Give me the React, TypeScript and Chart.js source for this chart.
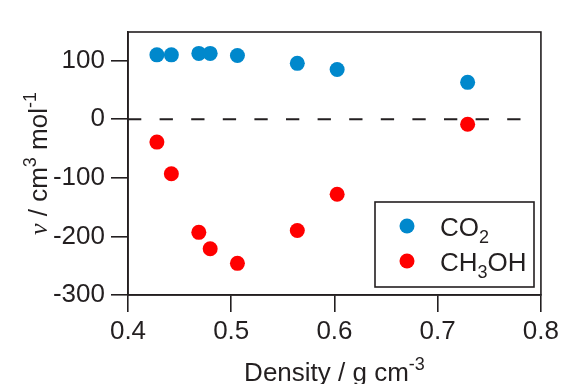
import React, { useEffect, useRef } from "react";
import { Chart, registerables } from "chart.js";

Chart.register(...registerables);

const co2Density = [0.428, 0.442, 0.4686, 0.4796, 0.506, 0.564, 0.6026, 0.729];
const co2Values = [110, 110, 112.5, 112.5, 109, 95.5, 85, 63];
const meohDensity = [0.428, 0.442, 0.4686, 0.4796, 0.506, 0.564, 0.6026, 0.729];
const meohValues = [-39, -93, -193, -221, -246, -190, -128, -8.5];
const xTicks = [0.4, 0.5, 0.6, 0.7, 0.8];
const yTicks = [-300, -200, -100, 0, 100];
const zeroLineX = [0.4, 0.781];

const INK = "#231f20";
const BLUE = "rgb(0,136,204)";
const RED = "rgb(255,0,0)";
const SANS = "'Liberation Sans', Arial, sans-serif";

type Piece = { t: string; size: number; rise: number; font?: string };

function drawPieces(ctx: CanvasRenderingContext2D, pieces: Piece[], x: number, y: number, align: "left" | "center") {
  let total = 0;
  const widths = pieces.map((p) => {
    ctx.font = p.font ?? `${p.size}px ${SANS}`;
    const w = ctx.measureText(p.t).width;
    total += w;
    return w;
  });
  let cx = align === "center" ? x - total / 2 : x;
  ctx.textAlign = "left";
  ctx.textBaseline = "alphabetic";
  pieces.forEach((p, i) => {
    ctx.font = p.font ?? `${p.size}px ${SANS}`;
    ctx.fillText(p.t, cx, y - p.rise);
    cx += widths[i];
  });
}

const decorPlugin = {
  id: "decor",
  afterDraw(chart: any) {
    const ctx: CanvasRenderingContext2D = chart.ctx;
    const a = chart.chartArea;
    ctx.save();
    // frame
    ctx.strokeStyle = INK;
    ctx.lineWidth = 1.6;
    ctx.strokeRect(a.left, a.top, a.right - a.left, a.bottom - a.top);
    ctx.fillStyle = INK;
    // x title
    drawPieces(
      ctx,
      [
        { t: "Density / g cm", size: 26, rise: 0 },
        { t: "-3", size: 18, rise: 11 },
      ],
      (a.left + a.right) / 2,
      381,
      "center"
    );
    // y title
    ctx.save();
    ctx.translate(47, (a.top + a.bottom) / 2);
    ctx.rotate(-Math.PI / 2);
    drawPieces(
      ctx,
      [
        { t: "ν", size: 26, rise: 0, font: `italic 26px 'Liberation Serif', serif` },
        { t: " / cm", size: 26, rise: 0 },
        { t: "3", size: 18, rise: 11 },
        { t: " mol", size: 26, rise: 0 },
        { t: "-1", size: 18, rise: 11 },
      ],
      0,
      0,
      "center"
    );
    ctx.restore();
    // legend
    const bx = 375, by = 202, bw = 159, bh = 85;
    ctx.fillStyle = "#ffffff";
    ctx.fillRect(bx, by, bw, bh);
    ctx.strokeStyle = INK;
    ctx.lineWidth = 1.6;
    ctx.strokeRect(bx, by, bw, bh);
    const items: { color: string; pieces: Piece[]; y: number }[] = [
      { color: BLUE, y: 226, pieces: [{ t: "CO", size: 26, rise: 0 }, { t: "2", size: 18, rise: -7 }] },
      {
        color: RED,
        y: 261,
        pieces: [
          { t: "CH", size: 26, rise: 0 },
          { t: "3", size: 18, rise: -7 },
          { t: "OH", size: 26, rise: 0 },
        ],
      },
    ];
    items.forEach((it) => {
      ctx.fillStyle = it.color;
      ctx.beginPath();
      ctx.arc(407, it.y, 7.5, 0, Math.PI * 2);
      ctx.fill();
      ctx.fillStyle = INK;
      drawPieces(ctx, it.pieces, 440, it.y + 9.5, "left");
    });
    ctx.restore();
  },
};

export default function App() {
  const ref = useRef<HTMLCanvasElement>(null);
  useEffect(() => {
    if (!ref.current) return;
    const chart = new Chart(ref.current, {
      type: "scatter",
      data: {
        datasets: [
          {
            type: "line",
            label: "zero",
            data: zeroLineX.map((x) => ({ x, y: 0 })),
            borderColor: INK,
            borderWidth: 2,
            borderDash: [13.3, 18.3],
            pointRadius: 0,
            fill: false,
          } as any,
          {
            label: "CO2",
            data: co2Density.map((x, i) => ({ x, y: co2Values[i] })),
            backgroundColor: BLUE,
            borderWidth: 0,
            pointRadius: 7.5,
          },
          {
            label: "CH3OH",
            data: meohDensity.map((x, i) => ({ x, y: meohValues[i] })),
            backgroundColor: RED,
            borderWidth: 0,
            pointRadius: 7.5,
          },
        ],
      },
      options: {
        animation: false,
        responsive: false,
        events: [],
        layout: { padding: { top: 32, right: 21, left: 0, bottom: 0 } },
        plugins: { legend: { display: false }, tooltip: { enabled: false } },
        scales: {
          x: {
            type: "linear",
            min: 0.4,
            max: 0.8,
            afterFit: (s: any) => {
              s.height = 89;
            },
            afterBuildTicks: (s: any) => {
              s.ticks = xTicks.map((v) => ({ value: v }));
            },
            ticks: {
              color: INK,
              font: { size: 26, family: SANS },
              padding: 4,
              maxRotation: 0,
              callback: (v: any) => Number(v).toFixed(1),
            },
            grid: { drawOnChartArea: false, tickLength: 17, color: INK, lineWidth: 1.6 },
            border: { color: INK, width: 1.6 },
          },
          y: {
            type: "linear",
            min: -300,
            max: 149,
            afterFit: (s: any) => {
              s.width = 128;
            },
            afterBuildTicks: (s: any) => {
              s.ticks = yTicks.map((v) => ({ value: v }));
            },
            ticks: {
              color: INK,
              font: { size: 26, family: SANS },
              padding: 6,
              callback: (v: any) => String(v),
            },
            grid: { drawOnChartArea: false, tickLength: 17, color: INK, lineWidth: 1.6 },
            border: { color: INK, width: 1.6 },
          },
        },
      },
      plugins: [decorPlugin],
    });
    return () => chart.destroy();
  }, []);
  return (
    <div style={{ position: "absolute", left: 0, top: 0, width: 563, height: 384 }}>
      <canvas ref={ref} width={563} height={384} />
    </div>
  );
}
